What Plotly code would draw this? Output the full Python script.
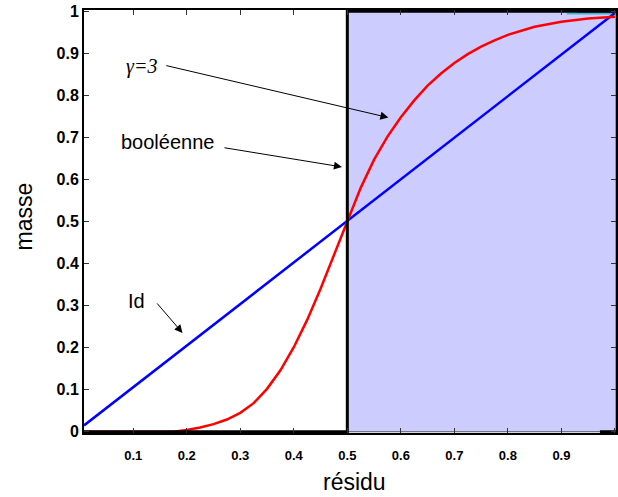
import plotly.graph_objects as go

# ---- data ----
x_ticks = [0.1, 0.2, 0.3, 0.4, 0.5, 0.6, 0.7, 0.8, 0.9, 1.0]
x_ticklabels = ["0.1", "0.2", "0.3", "0.4", "0.5", "0.6", "0.7", "0.8", "0.9", "1"]
y_ticks = [0, 0.1, 0.2, 0.3, 0.4, 0.5, 0.6, 0.7, 0.8, 0.9, 1.0]
y_ticklabels = ["0", "0.1", "0.2", "0.3", "0.4", "0.5", "0.6", "0.7", "0.8", "0.9", "1"]

# shaded region (booléenne = 1)
shade_x = [0.5, 1.002, 1.002, 0.5, 0.5]
shade_y = [0.0, 0.0, 1.0, 1.0, 0.0]

# booléenne step
bool_x = [0.008, 0.5, 0.5, 1.002]
bool_y = [0.0, 0.0, 1.0, 1.0]
bool_tail_x = [0.972, 1.002]
bool_tail_y = [0.0, 0.0]

# identity
id_x = [0.008, 1.0]
id_y = [0.015, 0.996]

# gamma = 3 curve
gam_x = [0.008, 0.10, 0.175, 0.20, 0.225, 0.25, 0.275, 0.30, 0.325, 0.35,
         0.375, 0.40, 0.425, 0.45, 0.475, 0.50, 0.525, 0.55, 0.575, 0.60,
         0.625, 0.65, 0.675, 0.70, 0.725, 0.75, 0.775, 0.80, 0.85, 0.90,
         0.95, 1.0]
gam_y = [0.0, 0.0, 0.0, 0.004, 0.010, 0.018, 0.029, 0.045, 0.068, 0.102,
         0.146, 0.201, 0.266, 0.340, 0.420, 0.502, 0.580, 0.647, 0.702, 0.748,
         0.788, 0.823, 0.852, 0.877, 0.898, 0.916, 0.931, 0.944, 0.963, 0.975,
         0.983, 0.987]

# small extra curves at top right
cyan_x = [0.91, 1.002]
cyan_y = [0.994, 0.994]
purple_x = [0.93, 1.002]
purple_y = [0.998, 0.998]

# annotations: labels and arrows (tail -> head)
labels = ["<i>γ=3</i>", "booléenne", "Id"]
label_x = [0.1156, 0.1648, 0.1052]
label_y = [0.8675, 0.690, 0.312]
label_fonts = ["Liberation Serif", "Liberation Sans", "Liberation Sans"]
arrow_tail_x = [0.159, 0.2676, 0.1423]
arrow_tail_y = [0.8716, 0.676, 0.3087]
arrow_head_x = [0.5767, 0.490, 0.192]
arrow_head_y = [0.7472, 0.6297, 0.235]

fig = go.Figure()

fig.add_trace(go.Scatter(x=shade_x, y=shade_y, mode="lines", fill="toself",
                         fillcolor="#ccccff", line=dict(color="#333333", width=0.8),
                         hoverinfo="skip", showlegend=False))
fig.add_trace(go.Scatter(x=cyan_x, y=cyan_y, mode="lines",
                         line=dict(color="#33bbcc", width=1.5), showlegend=False))
fig.add_trace(go.Scatter(x=purple_x, y=purple_y, mode="lines",
                         line=dict(color="#993399", width=1.2), showlegend=False))
fig.add_trace(go.Scatter(x=id_x, y=id_y, mode="lines",
                         line=dict(color="#0000ff", width=2.5), showlegend=False))
fig.add_trace(go.Scatter(x=gam_x, y=gam_y, mode="lines",
                         line=dict(color="#ff0000", width=2.5),
                         showlegend=False))
fig.add_trace(go.Scatter(x=bool_x, y=bool_y, mode="lines",
                         line=dict(color="#000000", width=3), showlegend=False))
fig.add_trace(go.Scatter(x=bool_tail_x, y=bool_tail_y, mode="lines",
                         line=dict(color="#000000", width=3), showlegend=False))

annotations = []
for t, x, y, f in zip(labels, label_x, label_y, label_fonts):
    annotations.append(dict(x=x, y=y, xref="x", yref="y", text=t, showarrow=False,
                            xanchor="center", yanchor="middle",
                            font=dict(family=f, size=20, color="black")))
for tx, ty, hx, hy in zip(arrow_tail_x, arrow_tail_y, arrow_head_x, arrow_head_y):
    annotations.append(dict(x=hx, y=hy, ax=tx, ay=ty, xref="x", yref="y",
                            axref="x", ayref="y", text="", showarrow=True,
                            arrowhead=2, arrowsize=1.6, arrowwidth=1,
                            arrowcolor="black", standoff=0, startstandoff=0))
annotations.append(dict(x=0, y=0.5, xref="paper", yref="paper", text="masse",
                        showarrow=False, textangle=-90, xanchor="center",
                        yanchor="middle", xshift=-61, yshift=5,
                        font=dict(family="Liberation Sans", size=23, color="black")))
annotations.append(dict(x=0.5, y=0, xref="paper", yref="paper", text="résidu",
                        showarrow=False, xanchor="center", yanchor="middle",
                        xshift=4, yshift=-49,
                        font=dict(family="Liberation Sans", size=23, color="black")))

fig.update_layout(
    width=618, height=497,
    margin=dict(l=84, r=0, t=10, b=64),
    paper_bgcolor="white", plot_bgcolor="white",
    annotations=annotations,
    showlegend=False,
)
fig.update_xaxes(range=[0.008, 1.002], tickvals=x_ticks, ticktext=x_ticklabels,
                 ticks="inside", ticklen=5, tickcolor="#333333", tickwidth=1,
                 showline=True, linecolor="black", linewidth=2, mirror="allticks",
                 showgrid=False, zeroline=False, ticklabelstandoff=9,
                 tickfont=dict(family="Liberation Sans", size=13, color="black", weight="bold"))
fig.update_yaxes(range=[-0.003, 1.003], tickvals=y_ticks, ticktext=y_ticklabels,
                 ticks="inside", ticklen=5, tickcolor="#333333", tickwidth=1,
                 showline=True, linecolor="black", linewidth=2, mirror="allticks",
                 showgrid=False, zeroline=False,
                 tickfont=dict(family="Liberation Sans", size=16, color="black", weight="bold"))

fig.write_html("out.html", config={"displayModeBar": False},
               post_script="document.body.style.margin='0';document.body.style.overflow='hidden';")
